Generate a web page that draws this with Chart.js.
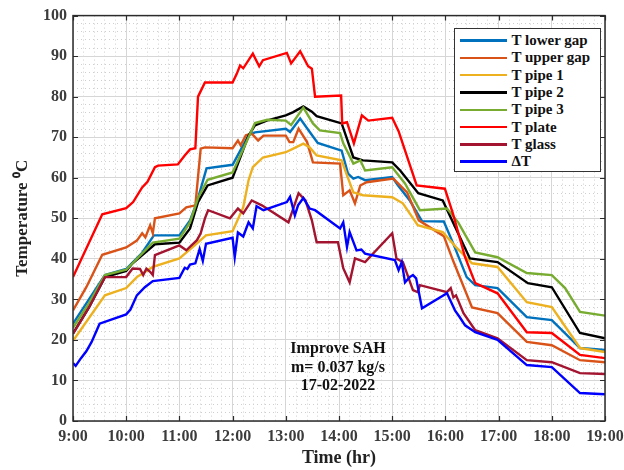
<!DOCTYPE html>
<html>
<head>
<meta charset="utf-8">
<script src="https://cdn.jsdelivr.net/npm/chart.js@4"></script>
<style>
  html, body { margin: 0; padding: 0; background: #fff; }
  .wrap { position: relative; width: 624px; height: 470px; }
  .legend {
    position: absolute; left: 454px; top: 28px; width: 147px; height: 144px;
    box-sizing: border-box; border: 1.5px solid #333; background: #fff;
    padding-top: 3px; font: bold 15px "Liberation Serif", "Times New Roman", serif; color: #111;
  }
  .legend-row { display: flex; align-items: center; height: 17.3px; white-space: nowrap; }
  .legend-row span.swatch { display: inline-block; width: 47px; height: 2.5px; margin: 0 5px 0 4.5px; }
  .note {
    position: absolute; left: 238px; top: 339px; width: 200px; text-align: center;
    font: bold 16px "Liberation Serif", "Times New Roman", serif; line-height: 18.5px; color: #111;
  }
</style>
</head>
<body>
<div class="wrap">
  <canvas id="tempChart" width="624" height="470"></canvas>
  <div class="legend" id="legend"></div>
  <div class="note">Improve SAH<br>m= 0.037 kg/s<br>17-02-2022</div>
</div>
<script>
// [hour, value] pairs
const lowerGap = [[9.0,24],[9.3,30],[9.6,36],[10.0,37.5],[10.3,41.5],[10.52,45.8],[11.0,45.8],[11.2,49.5],[11.33,54],[11.51,62.3],[12.0,63.2],[12.3,70.5],[12.42,71.2],[13.0,72.1],[13.08,71.3],[13.27,74.6],[13.45,71.3],[13.6,68.6],[14.05,66.7],[14.17,61],[14.27,59.8],[14.36,60.2],[14.49,59.4],[15.0,60.2],[15.11,58.1],[15.33,54.4],[15.56,49.3],[15.97,49.2],[16.14,44],[16.4,35.5],[16.56,33.5],[16.98,32.8],[17.53,25.6],[18.0,24.9],[18.53,18],[19.0,17.5]];
const upperGap = [[9.0,27.3],[9.25,33],[9.55,41],[10.0,42.8],[10.2,44.5],[10.3,46.3],[10.36,45.3],[10.45,48.3],[10.5,46.3],[10.54,50],[11.0,51.2],[11.13,52.7],[11.3,53.2],[11.4,67.2],[11.48,67.5],[12.0,67.3],[12.1,69.2],[12.15,68],[12.25,70.5],[12.36,70.9],[12.48,69.2],[12.58,70.4],[13.0,70.4],[13.07,68.8],[13.14,68.8],[13.24,72.1],[13.4,68.8],[13.51,63.8],[14.02,63.5],[14.08,55.7],[14.2,56.9],[14.3,53.7],[14.4,58.1],[14.52,58.9],[15.02,59.8],[15.28,56.4],[15.5,49.5],[15.97,45.6],[16.14,39.7],[16.5,28],[16.98,26.6],[17.53,19.5],[18.0,18.7],[18.53,15],[19.0,14.5]];
const pipe1 = [[9.0,19.8],[9.6,31],[10.0,32.8],[10.2,35.5],[10.5,38],[11.0,40.1],[11.26,43],[11.5,45.8],[12.0,46.8],[12.2,52.7],[12.3,59.4],[12.38,62.6],[12.57,65],[13.0,66.3],[13.14,67.2],[13.33,68.4],[13.45,67.5],[13.58,65.5],[14.05,64.3],[14.15,60.6],[14.27,56.4],[14.45,55.7],[15.0,55.2],[15.2,53.7],[15.48,48.3],[15.95,46.6],[16.2,42.9],[16.5,38.9],[16.98,38],[17.53,29.3],[18.0,28.1],[18.53,18],[19.0,17]];
const pipe2 = [[9.0,21.6],[9.3,28],[9.6,35.5],[10.0,37],[10.12,38.9],[10.54,43.6],[11.0,44],[11.2,47.5],[11.35,54],[11.53,58.1],[12.0,60],[12.3,70.4],[12.42,72.9],[12.64,74.1],[13.0,75.4],[13.14,76.2],[13.33,77.6],[13.49,76.3],[13.58,75.2],[14.05,73.4],[14.27,65],[14.45,64.3],[15.0,63.8],[15.15,61.8],[15.49,56.2],[15.95,54.4],[16.46,40.1],[16.98,39.2],[17.55,34],[18.0,33],[18.53,21.7],[19.0,20.4]];
const pipe3 = [[9.0,23],[9.3,29],[9.6,36],[10.0,37.3],[10.5,44],[11.0,45],[11.2,49],[11.35,55],[11.53,59.5],[12.0,61.3],[12.3,70],[12.42,73.5],[12.65,74.3],[13.0,74.1],[13.1,73],[13.33,77.3],[13.51,73.4],[13.64,71.7],[14.02,71],[14.08,68.5],[14.27,63.5],[14.4,64.3],[14.49,61.8],[15.0,62.6],[15.24,58.6],[15.52,52],[16.03,52.4],[16.24,49],[16.56,41.6],[16.98,40.4],[17.53,36.5],[18.0,36],[18.25,32.8],[18.53,26.9],[19.0,26]];
const plate = [[9.0,35.5],[9.55,51],[10.0,52.5],[10.13,54],[10.3,57.6],[10.4,59],[10.54,62.6],[10.6,63],[10.97,63.3],[11.1,65.5],[11.2,67],[11.3,67.3],[11.35,80],[11.48,83.5],[12.0,83.5],[12.08,85.7],[12.14,87.7],[12.2,87],[12.38,90.6],[12.5,87.5],[12.57,89],[13.02,90.8],[13.1,88.2],[13.27,91.2],[13.42,87.5],[13.49,86.9],[13.55,80],[14.04,80.3],[14.06,73.4],[14.15,73.7],[14.28,68.5],[14.43,75.4],[14.55,74.1],[15.0,74.8],[15.12,71.5],[15.46,58.1],[15.99,57.3],[16.14,51.2],[16.37,40.4],[16.56,34],[16.98,31.5],[17.53,21.9],[18.0,21.7],[18.53,16.3],[19.0,15.5]];
const glass = [[9.0,21.5],[9.3,28],[9.6,35.5],[10.0,35.5],[10.12,37.6],[10.26,37.5],[10.32,36],[10.38,37.6],[10.45,36.8],[10.5,36],[10.54,40.9],[11.0,43.3],[11.13,42.1],[11.33,44.6],[11.4,46.3],[11.48,50],[11.54,52],[11.95,50],[12.1,52.4],[12.2,51.2],[12.36,54.4],[12.55,53.2],[13.05,49],[13.24,56.2],[13.37,54.4],[13.49,49.5],[13.58,44.1],[13.98,44.1],[14.08,37.7],[14.2,34.2],[14.3,40.1],[14.49,39.2],[15.0,46.3],[15.08,40.1],[15.2,39.2],[15.39,32.3],[15.48,31.8],[15.52,33.5],[16.03,31.8],[16.1,32.8],[16.15,30.5],[16.2,31],[16.34,26.6],[16.56,22.4],[16.98,20.4],[17.53,15],[18.0,14.5],[18.53,11.8],[19.0,11.6]];
const deltaT = [[9.0,14.3],[9.05,13.6],[9.15,15.5],[9.25,17.2],[9.35,19.5],[9.5,24],[10.0,26.3],[10.08,27.5],[10.2,31],[10.35,33],[10.5,34.5],[11.0,35.3],[11.1,37.8],[11.15,37.5],[11.2,38.6],[11.3,38.9],[11.38,42.4],[11.44,39.5],[11.5,43.7],[12.0,45.2],[12.04,40.4],[12.1,46.5],[12.2,45.5],[12.3,49],[12.38,47.5],[12.45,53],[12.58,52],[13.02,54],[13.08,55.3],[13.17,50.7],[13.23,53.2],[13.33,55],[13.45,52.4],[13.55,52],[14.02,47.5],[14.08,49],[14.15,42.9],[14.2,46.6],[14.33,42.1],[14.42,42.3],[14.49,41.3],[15.05,39.7],[15.12,37.2],[15.18,39.2],[15.24,34.2],[15.33,35.5],[15.39,36],[15.45,35.2],[15.56,27.8],[16.03,31.5],[16.12,29],[16.18,27.3],[16.27,25.6],[16.37,23.6],[16.56,21.9],[16.98,20],[17.53,13.8],[18.0,13.3],[18.53,6.9],[19.0,6.6]];

const seriesNames = ["T lower gap", "T upper gap", "T pipe 1", "T pipe 2", "T pipe 3", "T plate", "T glass", "ΔT"];
const seriesData = [lowerGap, upperGap, pipe1, pipe2, pipe3, plate, glass, deltaT];
const seriesColors = ["#0072BD", "#D95319", "#EDB120", "#000000", "#77AC30", "#FF0000", "#A2142F", "#0000FF"];

const xMin = 9, xMax = 19, xStep = 0.2;
const yMin = 0, yMax = 100, yStep = 2;

const serif = "'Liberation Serif', 'Times New Roman', serif";
const isWhole = (v) => Math.abs(v - Math.round(v)) < 1e-6;
const isMajorX = (v) => isWhole(v);
const isMajorY = (v) => isWhole(v / 10);

// box round the plot with inward tick marks
const framePlugin = {
  id: "frame",
  afterDatasetsDraw(chart) {
    const { ctx, chartArea: a, scales } = chart;
    ctx.save();
    ctx.strokeStyle = "#2b2b2b";
    ctx.lineWidth = 1.2;
    ctx.beginPath();
    scales.x.ticks.forEach((t) => {
      if (!isMajorX(t.value)) return;
      const px = Math.round(scales.x.getPixelForValue(t.value)) + 0.5;
      ctx.moveTo(px, a.bottom); ctx.lineTo(px, a.bottom - 5);
      ctx.moveTo(px, a.top); ctx.lineTo(px, a.top + 5);
    });
    scales.y.ticks.forEach((t) => {
      if (!isMajorY(t.value)) return;
      const py = Math.round(scales.y.getPixelForValue(t.value)) + 0.5;
      ctx.moveTo(a.left, py); ctx.lineTo(a.left + 5, py);
      ctx.moveTo(a.right, py); ctx.lineTo(a.right - 5, py);
    });
    ctx.stroke();
    ctx.lineWidth = 1.5;
    ctx.strokeRect(a.left, a.top, a.right - a.left, a.bottom - a.top);
    ctx.restore();
  },
};

const n = seriesData.length;
const datasets = seriesData.map((pts, i) => ({
  label: seriesNames[i],
  data: pts.map(([x, y]) => ({ x, y })),
  borderColor: seriesColors[i],
  backgroundColor: seriesColors[i],
  borderWidth: 2.4,
  pointRadius: 0,
  tension: 0,
  fill: false,
  order: n - i,
}));

new Chart(document.getElementById("tempChart"), {
  type: "line",
  data: { datasets },
  options: {
    responsive: false,
    animation: false,
    devicePixelRatio: 1,
    layout: { padding: { left: 0, top: 15, right: 19, bottom: 0 } },
    plugins: { legend: { display: false }, tooltip: { enabled: false } },
    scales: {
      x: {
        type: "linear",
        min: xMin,
        max: xMax,
        afterFit: (s) => {
          s.height = 49;
          // let the last label run to the canvas edge, as in the original
          s.paddingRight = 0;
          s.paddingLeft = 0;
        },
        ticks: {
          stepSize: xStep,
          autoSkip: false,
          maxRotation: 0,
          minRotation: 0,
          padding: 6,
          color: "#3c3c3c",
          font: { family: serif, size: 16, weight: "bold" },
          callback: (v) => (isMajorX(v) ? `${Math.round(v)}:00` : ""),
        },
        grid: {
          drawTicks: false,
          lineWidth: 1,
          color: (c) => (c.tick && isMajorX(c.tick.value) ? "#d6d6d6" : "#cfcfcf"),
        },
        border: {
          display: false,
          dash: (c) => (c.tick && !isMajorX(c.tick.value) ? [1, 3] : []),
        },
        title: {
          display: true,
          text: "Time (hr)",
          color: "#222",
          font: { family: serif, size: 18, weight: "bold" },
          padding: { top: 0, bottom: 1 },
        },
      },
      y: {
        min: yMin,
        max: yMax,
        afterFit: (s) => { s.width = 73; },
        ticks: {
          stepSize: yStep,
          autoSkip: false,
          padding: 6,
          color: "#3c3c3c",
          font: { family: serif, size: 16, weight: "bold" },
          callback: (v) => (isMajorY(v) ? String(v) : ""),
        },
        grid: {
          drawTicks: false,
          lineWidth: 1,
          color: (c) => (c.tick && isMajorY(c.tick.value) ? "#d6d6d6" : "#cfcfcf"),
        },
        border: {
          display: false,
          dash: (c) => (c.tick && !isMajorY(c.tick.value) ? [1, 3] : []),
        },
        title: {
          display: true,
          text: "Temperature ⁰C",
          color: "#222",
          font: { family: serif, size: 17, weight: "bold" },
          padding: { top: 12, bottom: 0 },
        },
      },
    },
  },
  plugins: [framePlugin],
});

const legendBox = document.getElementById("legend");
seriesNames.forEach((name, i) => {
  const row = document.createElement("div");
  row.className = "legend-row";
  row.innerHTML = `<span class="swatch" style="background:${seriesColors[i]}"></span><span>${name}</span>`;
  legendBox.appendChild(row);
});
</script>
</body>
</html>
